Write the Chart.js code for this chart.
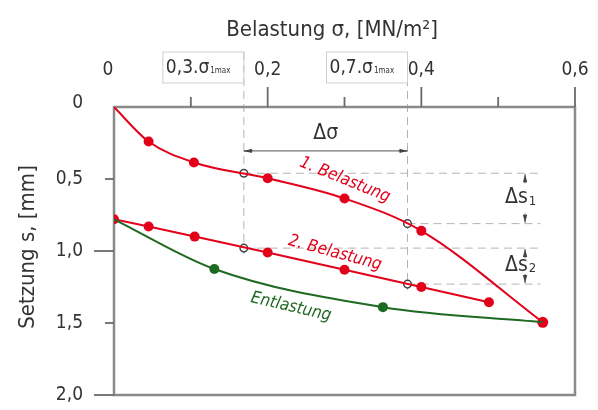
<!DOCTYPE html>
<html><head><meta charset="utf-8">
<script src="https://cdn.jsdelivr.net/npm/chart.js@4/dist/chart.umd.min.js"></script>
<style>html,body{margin:0;padding:0;background:#fff}</style></head>
<body>
<canvas id="c" width="598" height="410"></canvas>
<script>
// ---- data ----
const load1Sigma = [0, 0.045, 0.104, 0.2, 0.3, 0.4, 0.558];
const load1Settle = [0, 0.24, 0.385, 0.495, 0.635, 0.86, 1.495];
const load2Sigma = [0, 0.045, 0.105, 0.2, 0.3, 0.4, 0.488];
const load2Settle = [0.78, 0.83, 0.90, 1.01, 1.13, 1.25, 1.356];
const unloadSigma = [0, 0.1306, 0.35, 0.558];
const unloadSettle = [0.78, 1.125, 1.39, 1.495];
const refSigma = [0.169, 0.382];          // 0,3·σ1max and 0,7·σ1max
const refSettle1 = [0.46, 0.81];          // on 1. Belastung
const refSettle2 = [0.98, 1.23];          // on 2. Belastung
const xTickValues = [0, 0.1, 0.2, 0.3, 0.4, 0.5, 0.6];
const xTickLabels = ['0', '', '0,2', '', '0,4', '', '0,6'];
const yTickValues = [0, 0.5, 1.0, 1.5, 2.0];
const yTickLabels = ['0', '0,5', '1,0', '1,5', '2,0'];

const RED = '#e2001a', GREEN = '#1f6a22', TXT = '#333333', FRAME = '#8a8a8a';
const FONT = '"DejaVu Sans Condensed", "DejaVu Sans", sans-serif';
const pts = (xs, ys) => xs.map((x, i) => ({x, y: ys[i]}));

function arrow(ctx, x1, y1, x2, y2) { // arrowhead at (x2,y2)
  const a = Math.atan2(y2 - y1, x2 - x1), L = 8, W = 2.2;
  ctx.beginPath(); ctx.moveTo(x1, y1); ctx.lineTo(x2, y2); ctx.stroke();
  ctx.beginPath(); ctx.moveTo(x2, y2);
  ctx.lineTo(x2 - L * Math.cos(a) + W * Math.sin(a), y2 - L * Math.sin(a) - W * Math.cos(a));
  ctx.lineTo(x2 - L * Math.cos(a) - W * Math.sin(a), y2 - L * Math.sin(a) + W * Math.cos(a));
  ctx.closePath(); ctx.fill();
}
function rotText(ctx, txt, x, y, deg, color, size) {
  ctx.save(); ctx.translate(x, y); ctx.rotate(deg * Math.PI / 180);
  ctx.fillStyle = color; ctx.font = 'italic ' + size + 'px ' + FONT;
  ctx.textAlign = 'center'; ctx.textBaseline = 'middle';
  ctx.fillText(txt, 0, 0); ctx.restore();
}
function subText(ctx, main, sub, x, y, size, subSize) { // left aligned at x, middle y
  ctx.font = size + 'px ' + FONT; ctx.textAlign = 'left'; ctx.textBaseline = 'middle';
  ctx.fillText(main, x, y);
  const w = ctx.measureText(main).width;
  ctx.font = subSize + 'px ' + FONT;
  ctx.fillText(sub, x + w + 1, y + size * 0.18);
  return w + 1 + ctx.measureText(sub).width;
}

const deco = {
  id: 'deco',
  beforeDatasetsDraw(chart) {
    const ctx = chart.ctx, xs = chart.scales.x, ys = chart.scales.y;
    const X = v => xs.getPixelForValue(v), Y = v => ys.getPixelForValue(v);
    const ca = chart.chartArea;
    ctx.save();
    // dashed helper lines
    ctx.strokeStyle = '#b4b4b4'; ctx.lineWidth = 1; ctx.setLineDash([8, 5]);
    const xEnd = X(0.555);
    refSigma.forEach((s, i) => {
      ctx.beginPath(); ctx.moveTo(X(s), 52); ctx.lineTo(X(s), Y(refSettle2[i]) + 6); ctx.stroke();
      [refSettle1[i], refSettle2[i]].forEach(v => {
        ctx.beginPath(); ctx.moveTo(X(s), Y(v)); ctx.lineTo(xEnd, Y(v)); ctx.stroke();
      });
    });
    ctx.setLineDash([]);
    // frame
    ctx.strokeStyle = FRAME; ctx.lineWidth = 2.5;
    ctx.strokeRect(ca.left, ca.top, ca.right - ca.left, ca.bottom - ca.top);
    // ticks
    ctx.lineWidth = 1.8; ctx.strokeStyle = '#6a6a6a';
    xTickValues.forEach((v, i) => {
      if (v === 0) return;
      const len = xTickLabels[i] ? 20 : 10;
      ctx.beginPath(); ctx.moveTo(X(v), ca.top); ctx.lineTo(X(v), ca.top - len); ctx.stroke();
    });
    yTickValues.forEach((v, i) => {
      if (v === 0) return;
      const len = (Math.abs(v - 1) < 1e-9 || Math.abs(v - 2) < 1e-9) ? 20 : 9;
      ctx.beginPath(); ctx.moveTo(ca.left, Y(v)); ctx.lineTo(ca.left - len, Y(v)); ctx.stroke();
    });
    // tick labels
    ctx.fillStyle = TXT; ctx.font = '19px ' + FONT; ctx.textBaseline = 'middle';
    ctx.textAlign = 'center';
    xTickValues.forEach((v, i) => {
      if (!xTickLabels[i]) return;
      ctx.fillText(xTickLabels[i], X(v) - (v === 0 ? 6 : 0), 70);
    });
    ctx.textAlign = 'right';
    yTickValues.forEach((v, i) => ctx.fillText(yTickLabels[i], 83, Y(v) - (v === 0 ? 4 : 0)));
    // axis titles
    ctx.font = '22px ' + FONT; ctx.textAlign = 'center';
    ctx.fillText('Belastung σ, [MN/m²]', 332, 30);
    ctx.save(); ctx.translate(28, 247); ctx.rotate(-Math.PI / 2);
    ctx.fillText('Setzung s, [mm]', 0, 0); ctx.restore();
    // boxed labels 0,3.σ1max / 0,7.σ1max
    ['0,3.σ', '0,7.σ'].forEach((t, i) => {
      const xr = X(refSigma[i]);
      ctx.strokeStyle = '#cfcfcf'; ctx.lineWidth = 1;
      ctx.strokeRect(xr - 81, 52, 81, 31);
      ctx.fillStyle = TXT;
      subText(ctx, t, '1max', xr - 78, 68, 19, 8);
    });
    ctx.restore();
  },
  afterDatasetsDraw(chart) {
    const ctx = chart.ctx, xs = chart.scales.x, ys = chart.scales.y;
    const X = v => xs.getPixelForValue(v), Y = v => ys.getPixelForValue(v);
    ctx.save();
    // Δσ dimension
    ctx.strokeStyle = '#555'; ctx.fillStyle = '#444'; ctx.lineWidth = 1;
    const yd = Y(0.305), xa = X(refSigma[0]), xb = X(refSigma[1]);
    ctx.beginPath(); ctx.moveTo(xa, yd); ctx.lineTo(xb, yd); ctx.stroke();
    arrow(ctx, xa + 9, yd, xa, yd); arrow(ctx, xb - 9, yd, xb, yd);
    ctx.fillStyle = TXT; ctx.font = '21px ' + FONT; ctx.textAlign = 'center'; ctx.textBaseline = 'middle';
    ctx.fillText('Δσ', (xa + xb) / 2, 134);
    // Δs dimensions
    const xd = X(0.535);
    ctx.fillStyle = '#444';
    [[refSettle1[0], refSettle1[1], '1'], [refSettle2[0], refSettle2[1], '2']].forEach(([a, b, n]) => {
      const ya = Y(a), yb = Y(b);
      arrow(ctx, xd, ya + 10, xd, ya + 1);
      arrow(ctx, xd, yb - 10, xd, yb - 1);
      ctx.fillStyle = TXT;
      subText(ctx, 'Δs', n, xd - 20, (ya + yb) / 2 - 1, 21, 13);
      ctx.fillStyle = '#444';
    });
    // curve labels
    rotText(ctx, '1. Belastung', 345, 180, 22, RED, 17);
    rotText(ctx, '2. Belastung', 335, 253, 15, RED, 17);
    rotText(ctx, 'Entlastung', 291, 307, 13, GREEN, 17);
    ctx.restore();
  }
};

new Chart(document.getElementById('c'), {
  type: 'scatter',
  data: {
    datasets: [
      { label: 'Entlastung', data: pts(unloadSigma, unloadSettle), showLine: true,
        borderColor: GREEN, borderWidth: 2, cubicInterpolationMode: 'monotone',
        pointBackgroundColor: GREEN, pointBorderWidth: 0,
        pointRadius: ctx => (ctx.dataIndex === 1 || ctx.dataIndex === 2) ? 5 : 0 },
      { label: '2. Belastung', data: pts(load2Sigma, load2Settle), showLine: true,
        borderColor: RED, borderWidth: 2, tension: 0,
        pointBackgroundColor: RED, pointBorderWidth: 0, pointRadius: 5 },
      { label: '1. Belastung', data: pts(load1Sigma, load1Settle), showLine: true,
        borderColor: RED, borderWidth: 2, cubicInterpolationMode: 'monotone',
        pointBackgroundColor: RED, pointBorderWidth: 0,
        pointRadius: ctx => ctx.dataIndex === 0 ? 0 : (ctx.dataIndex === 6 ? 5.5 : 5) },
      { label: 'ref', data: pts(refSigma.concat(refSigma), refSettle1.concat(refSettle2)), showLine: false,
        pointRadius: 3.8, pointBackgroundColor: '#fff', pointBorderColor: '#444', pointBorderWidth: 1.5 }
    ]
  },
  options: {
    responsive: false, animation: false,
    layout: { padding: { left: 114, right: 23, top: 107, bottom: 15 } },
    plugins: { legend: { display: false }, tooltip: { enabled: false } },
    scales: {
      x: { type: 'linear', position: 'top', min: 0, max: 0.6, display: false },
      y: { type: 'linear', reverse: true, min: 0, max: 2, display: false }
    }
  },
  plugins: [deco]
});
</script>
</body></html>
